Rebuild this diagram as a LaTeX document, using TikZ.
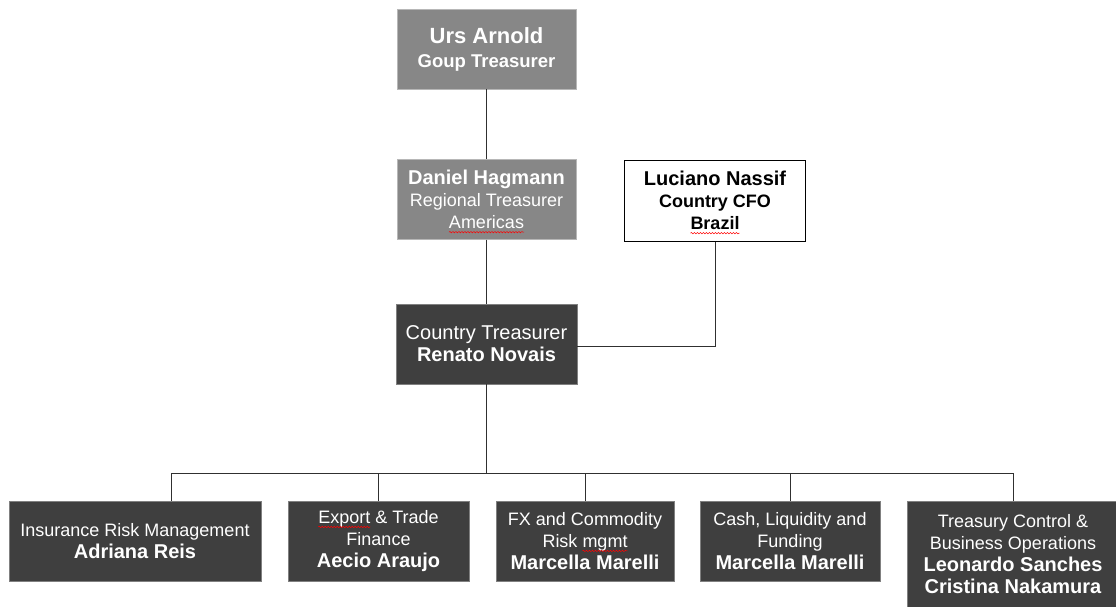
\documentclass[tikz,border=0pt]{standalone}
\usepackage{fontspec}
\setmainfont{Liberation Sans}
\usetikzlibrary{decorations.pathmorphing}

\definecolor{boxgrey}{HTML}{878787}
\definecolor{boxdark}{HTML}{3F3F3F}
\definecolor{wire}{HTML}{303030}

\newcommand{\namefont}{\fontsize{20}{22}\selectfont\bfseries}
\newcommand{\rolefont}{\fontsize{18}{22}\selectfont}
% red spell-check squiggle
\newcommand{\spell}[1]{\tikz[baseline=(sp.base)]{\node[inner sep=0pt, outer sep=0pt, minimum width=0pt,
    minimum height=0pt, draw=none, fill=none, font=, anchor=base] (sp) {#1};
  \draw[overlay, red, line width=0.5pt, decorate, decoration={snake, amplitude=0.7pt, segment length=3pt}]
    ([yshift=-3.5pt]sp.base west) -- ([yshift=-3.5pt]sp.base east);}}

\begin{document}
\begin{tikzpicture}[x=1pt, y=-1pt,
    orgbox/.style={rectangle, align=center, inner sep=2pt, text=white, font=\rolefont},
    greybox/.style={orgbox, fill=boxgrey, draw=boxgrey!60, minimum width=179pt, minimum height=80pt},
    darkbox/.style={orgbox, fill=boxdark, draw=gray, minimum height=80pt},
    whitebox/.style={orgbox, fill=white, draw=black, line width=1pt, text=black, minimum width=181pt, minimum height=81pt},
    wire/.style={draw=wire, line width=1pt}]
    \useasboundingbox (0,0) rectangle (1116,607);

    % top
    \node[greybox, font=\fontsize{22}{24}\selectfont\bfseries] (urs) at (486.5,49) {Urs Arnold\\ \fontsize{18.5}{24}\selectfont\bfseries Goup Treasurer};
    \node[greybox] (daniel) at (486.5,199.5) {\namefont Daniel Hagmann\\ \rolefont Regional Treasurer\\ \spell{Americas}};
    \node[whitebox] (luciano) at (715,200.5) {\namefont Luciano Nassif\\ \fontsize{18}{22}\selectfont\bfseries Country CFO\\ \spell{\bfseries Brazil}};
    \node[darkbox, minimum width=181pt, font=\fontsize{20}{22}\selectfont] (country) at (486.5,344) {Country Treasurer\\ \namefont Renato Novais};

    % teams
    \node[darkbox, minimum width=252pt] (insurance) at (135,541) {Insurance Risk Management\\ \namefont Adriana Reis};
    \node[darkbox, minimum width=181pt] (export) at (378.5,541) {\spell{Export} \& Trade\\ Finance\\ \namefont Aecio Araujo};
    \node[darkbox, minimum width=178pt] (fx) at (585,541) {FX and Commodity\\ Risk \spell{mgmt}\\ \namefont Marcella Marelli};
    \node[darkbox, minimum width=180pt] (cash) at (790,541) {Cash, Liquidity and\\ Funding\\ \namefont Marcella Marelli};
    \node[darkbox, minimum width=212pt, minimum height=106pt] (treasury) at (1013,554) {Treasury Control \&\\ Business Operations\\ \namefont Leonardo Sanches\\ \namefont Cristina Nakamura};

    % lines
    \draw[wire] (urs) -- (daniel);
    \draw[wire] (daniel) -- (country);
    \draw[wire] (luciano.south) |- ([yshift=-2pt]country.east);
    \coordinate (bus) at (486.5,473);
    \draw[wire] (country) -- (bus);
    \draw[wire] (bus) -| ([xshift=36pt]insurance.north);
    \foreach \team in {export,fx,cash,treasury}
        \draw[wire] (bus) -| (\team.north);
\end{tikzpicture}
\end{document}
